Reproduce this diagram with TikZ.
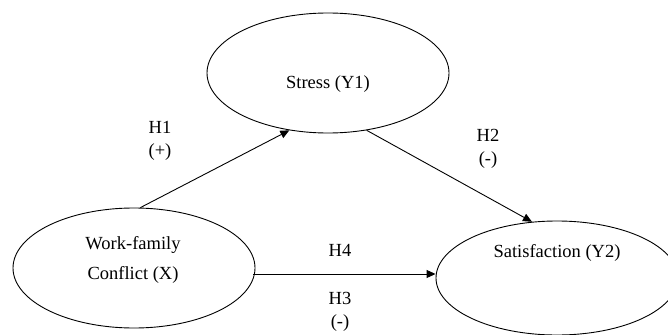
\documentclass[tikz,border=0pt]{standalone}
\usepackage{fontspec}
\setmainfont{Liberation Serif}
\usetikzlibrary{shapes.geometric,arrows.meta}
\begin{document}
\begin{tikzpicture}[x=1pt,y=-1pt,
  font=\fontsize{18.5}{30}\selectfont,
  latent/.style={ellipse,draw,line width=0.9pt,minimum width=242pt,minimum height=120pt,inner sep=0pt},
  lbl/.style={inner sep=0pt,align=center},
  arr/.style={line width=0.9pt,-{Triangle[length=9pt,width=8pt]}}]
\useasboundingbox (0,0) rectangle (668,334);
\clip (0,0) rectangle (668,334);
\node[latent] (stress) at (328,73) {};
\node[latent] (wf) at (134,268) {};
\node[latent,minimum height=114pt] (sat) at (557,278) {};
\node[lbl] (tstress) at (328,84) {Stress (Y1)};
\node[lbl] (twf1) at (133,245) {Work-family};
\node[lbl] (twf2) at (133,275) {Conflict (X)};
\node[lbl] (tsat) at (557,253) {Satisfaction (Y2)};
\draw[arr] (wf.84) -- (stress.236);
\draw[arr] (stress.304) -- (sat.114);
\coordinate (h4s) at (253,274);
\draw[arr] (h4s) -- (h4s -| sat.west);
\node[lbl] (h1) at (160,127) {H1};
\node[lbl] (h1s) at (160,152) {(+)};
\node[lbl] (h2) at (488,135) {H2};
\node[lbl] (h2s) at (488,160) {(-)};
\node[lbl] (h4) at (340,250) {H4};
\node[lbl] (h3) at (340,298) {H3};
\node[lbl] (h3s) at (340,323) {(-)};
\end{tikzpicture}
\end{document}
